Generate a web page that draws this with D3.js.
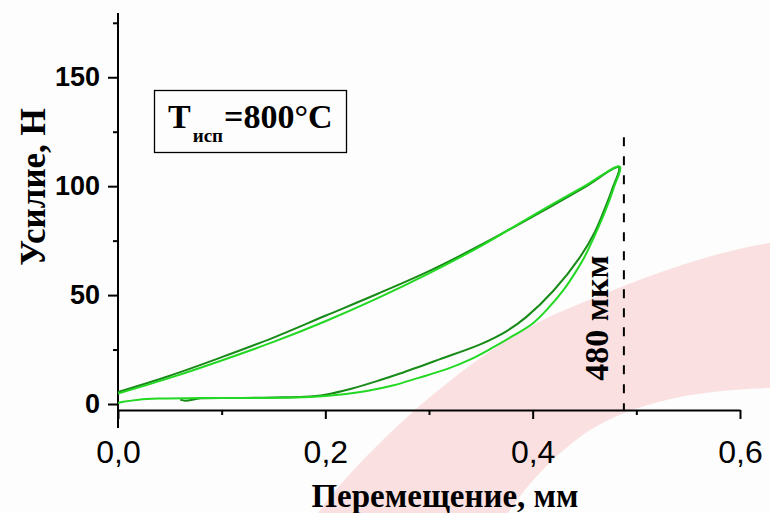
<!DOCTYPE html>
<html>
<head>
<meta charset="utf-8">
<script src="https://cdn.jsdelivr.net/npm/d3@7/dist/d3.min.js"></script>
<style>
  body { margin: 0; background: #fdfdfd; }
  svg { display: block; }
</style>
</head>
<body>
<div id="chart"></div>
<script>
// displacement, mm / force, N
var darkX  = [0, 0.05, 0.1, 0.15, 0.2, 0.25, 0.3, 0.35, 0.4, 0.45, 0.483,
              0.477, 0.469, 0.46, 0.445, 0.42, 0.394, 0.375, 0.35, 0.31, 0.272, 0.253, 0.225, 0.2, 0.18, 0.15, 0.12, 0.08, 0.065, 0.06];
var darkY  = [5.5, 13, 21.5, 30.5, 40.5, 50.5, 61, 73, 86, 99.5, 108.6,
              99, 89, 79, 67, 52, 40, 33.5, 27.5, 20.5, 14, 11, 7, 4.3, 3.3, 3, 2.8, 2.6, 1.5, 2];
var lightX = [0, 0.05, 0.1, 0.15, 0.2, 0.25, 0.3, 0.35, 0.4, 0.45, 0.484,
              0.478, 0.47, 0.46, 0.45, 0.44, 0.43, 0.415, 0.4, 0.38, 0.36, 0.34, 0.317, 0.29, 0.265, 0.24, 0.22, 0.2, 0.17, 0.12, 0.08, 0.04, 0.02, 0.005, 0];
var lightY = [4.8, 12, 20, 28.5, 38, 48.5, 60, 72.5, 86.5, 100, 109,
              99, 88.5, 77.5, 67.5, 59.5, 52.5, 44, 37, 31, 25.5, 20.5, 16, 12, 8.5, 6, 4.6, 3.7, 3, 2.8, 2.8, 2.5, 2, 1, 0.5];
var markX  = 0.488;

var xMajor = [0, 0.2, 0.4, 0.6], xMinor = [0.1, 0.3, 0.5];
var yMajor = [0, 50, 100, 150], yMinor = [25, 75, 125, 175];

var W = 770, H = 513;
var svg = d3.select("#chart").append("svg").attr("width", W).attr("height", H);

var x = d3.scaleLinear().domain([0, 0.6]).range([118, 740]);
var y = d3.scaleLinear().domain([-2.75, 179.5]).range([410, 13]);
var fmt = function (d) { return d3.format(".1f")(d).replace(".", ","); };

// faint watermark swoosh in the background
svg.append("path")
  .attr("d", "M318,513 C360,455 470,350 560,312 C640,278 710,252 770,243 L770,388 C700,390 640,400 590,430 C560,450 530,480 508,513 Z")
  .attr("fill", "#fae0e0");

var serif = "'Liberation Serif', 'Times New Roman', serif";
var sans  = "'Liberation Sans', Arial, sans-serif";

// x axis
svg.append("g").attr("transform", "translate(0,410)")
  .call(d3.axisBottom(x).tickValues(xMinor).tickSize(5).tickFormat(""))
  .call(function (g) { g.select(".domain").remove(); g.selectAll("line").attr("stroke-width", 2); });
var gx = svg.append("g").attr("transform", "translate(0,410)")
  .call(d3.axisBottom(x).tickValues(xMajor).tickSize(9).tickSizeOuter(0).tickPadding(21).tickFormat(fmt));
gx.select(".domain").attr("stroke-width", 2);
gx.selectAll("line").attr("stroke-width", 2);
gx.selectAll("text").attr("font-family", sans).attr("font-size", 32).attr("fill", "#000");

// y axis
svg.append("g").attr("transform", "translate(118,0)")
  .call(d3.axisLeft(y).tickValues(yMinor).tickSize(5).tickFormat(""))
  .call(function (g) { g.select(".domain").remove(); g.selectAll("line").attr("stroke-width", 2); });
var gy = svg.append("g").attr("transform", "translate(118,0)")
  .call(d3.axisLeft(y).tickValues(yMajor).tickSize(10).tickSizeOuter(0).tickPadding(8).tickFormat(d3.format("d")));
gy.select(".domain").remove();
gy.selectAll("line").attr("stroke-width", 2);
gy.selectAll("text").attr("font-family", sans).attr("font-size", 27).attr("font-weight", "bold").attr("fill", "#000");
svg.append("line").attr("x1", 118).attr("x2", 118).attr("y1", y.range()[1]).attr("y2", 428)
  .attr("stroke", "#000").attr("stroke-width", 2);

// 480 um marker
svg.append("line").attr("x1", x(markX)).attr("x2", x(markX)).attr("y1", y(122.5)).attr("y2", 410)
  .attr("stroke", "#000").attr("stroke-width", 2).attr("stroke-dasharray", "9,10");
svg.append("text").attr("transform", "translate(608," + 318 + ") rotate(-90)")
  .attr("text-anchor", "middle").attr("font-family", serif).attr("font-weight", "bold")
  .attr("font-size", 34).text("480 мкм");

// curves
var line = d3.line().x(function (d) { return x(d[0]); }).y(function (d) { return y(d[1]); })
  .curve(d3.curveCatmullRom.alpha(0.5));
svg.append("path").datum(d3.zip(darkX, darkY)).attr("d", line)
  .attr("fill", "none").attr("stroke", "#178a17").attr("stroke-width", 2);
svg.append("path").datum(d3.zip(lightX, lightY)).attr("d", line)
  .attr("fill", "none").attr("stroke", "#22d822").attr("stroke-width", 2);

// label box
svg.append("rect").attr("x", 154.5).attr("y", 90.5).attr("width", 192).attr("height", 62)
  .attr("fill", "#fdfdfd").attr("stroke", "#000").attr("stroke-width", 1.3);
var t = svg.append("text").attr("x", 168).attr("y", 128).attr("font-family", serif)
  .attr("font-weight", "bold").attr("font-size", 34);
t.append("tspan").text("T");
t.append("tspan").attr("font-size", 19).attr("dy", 14).attr("dx", 2).text("исп");
t.append("tspan").attr("dy", -14).attr("dx", 1).text("=800°C");

// axis titles
svg.append("text").attr("x", 445).attr("y", 507).attr("text-anchor", "middle")
  .attr("font-family", serif).attr("font-weight", "bold").attr("font-size", 33)
  .text("Перемещение, мм");
svg.append("text").attr("transform", "translate(45,187) rotate(-90)").attr("text-anchor", "middle")
  .attr("font-family", serif).attr("font-weight", "bold").attr("font-size", 35)
  .text("Усилие, Н");
</script>
</body>
</html>
